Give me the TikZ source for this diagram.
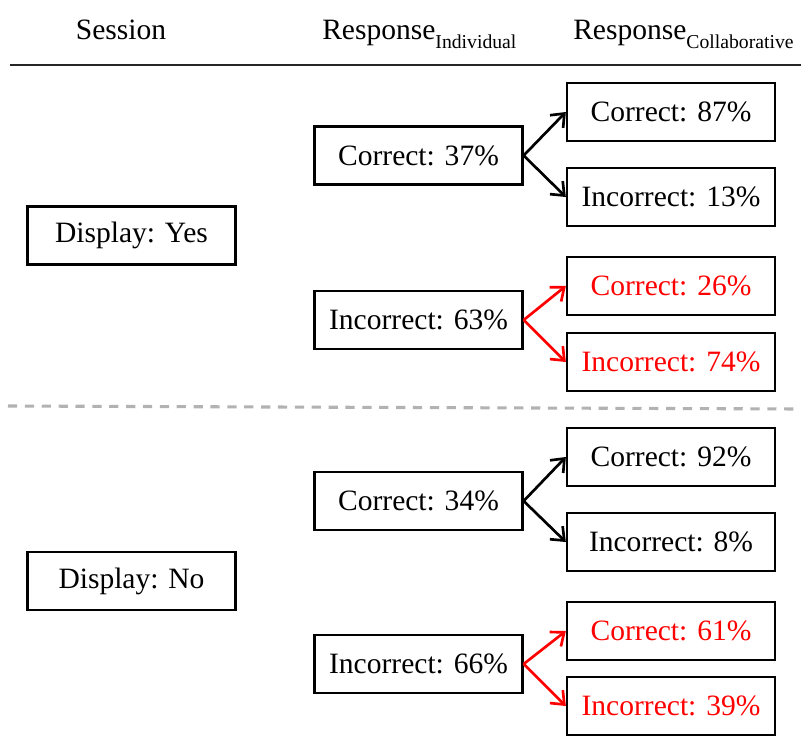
\documentclass[tikz,border=0pt]{standalone}
\usepackage{fontspec}
\setmainfont{Liberation Serif}
\usetikzlibrary{arrows.meta}
\newcommand{\sub}[1]{\raisebox{-0.6ex}{\fontsize{14}{16}\selectfont #1}}
\begin{document}
\begin{tikzpicture}[x=0.025cm, y=-0.025cm,
    box/.style = {draw, line width=1.6pt, minimum width=5.2cm, minimum height=1.45cm, inner sep=0pt, font=\fontsize{21}{25}\selectfont},
    head/.style = {font=\fontsize{21}{25}\selectfont, inner sep=0pt, anchor=base west},
    arr/.style = {-{Straight Barb[length=8pt,width=13pt]}, line width=1.9pt},
    bad/.style = {text=red}]
        \useasboundingbox (0,0) rectangle (801,742);
        \node[head, anchor=base] (h0) at (121,40) {Session};
        \node[head] (h1) at (322,40) {Response\sub{Individual}};
        \node[head] (h2) at (573,40) {Response\sub{Collaborative}};
        \draw[line width=1.8pt, black!85] (10,65) -- (801,65);
        \draw[line width=2.2pt, black!30, dash pattern=on 6.5pt off 5.5pt] (8,406) -- (801,409);
        %
        \node[box] (yes) at (131.5,235.5) {Display: Yes};
        \node[box] (no) at (131.5,581) {Display: No};
        %
        \node[box] (c1) at (418.5,155.5) {Correct: 37\%};
        \node[box] (i1) at (418.5,320) {Incorrect: 63\%};
        \node[box] (c2) at (418.5,501) {Correct: 34\%};
        \node[box] (i2) at (418.5,664) {Incorrect: 66\%};
        %
        \node[box] (c1c) at (671,112) {Correct: 87\%};
        \node[box] (c1i) at (671,197) {Incorrect: 13\%};
        \node[box, bad] (i1c) at (671,286) {Correct: 26\%};
        \node[box, bad] (i1i) at (671,362) {Incorrect: 74\%};
        \node[box] (c2c) at (671,457) {Correct: 92\%};
        \node[box] (c2i) at (671,542) {Incorrect: 8\%};
        \node[box, bad] (i2c) at (671,631) {Correct: 61\%};
        \node[box, bad] (i2i) at (671,706) {Incorrect: 39\%};
        %
        \draw[arr] (c1.east) -- (c1c.west);
        \draw[arr] (c1.east) -- (c1i.west);
        \draw[arr, red] (i1.east) -- (i1c.west);
        \draw[arr, red] (i1.east) -- (i1i.west);
        \draw[arr] (c2.east) -- (c2c.west);
        \draw[arr] (c2.east) -- (c2i.west);
        \draw[arr, red] (i2.east) -- (i2c.west);
        \draw[arr, red] (i2.east) -- (i2i.west);
      \end{tikzpicture}
\end{document}
